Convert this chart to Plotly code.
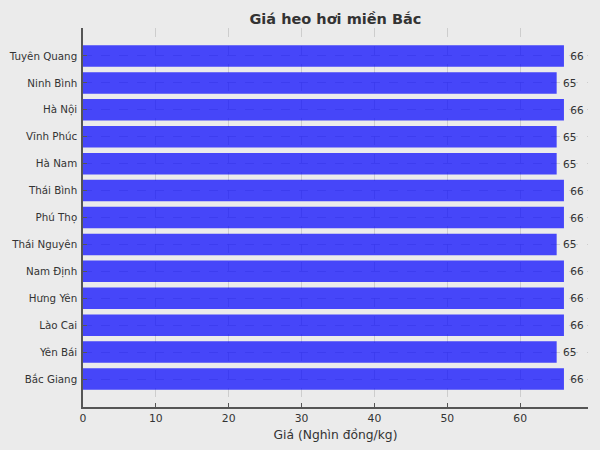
import plotly.graph_objects as go

# data, listed bottom to top as in the chart
provinces = ["Bắc Giang", "Yên Bái", "Lào Cai", "Hưng Yên", "Nam Định", "Thái Nguyên",
             "Phú Thọ", "Thái Bình", "Hà Nam", "Vĩnh Phúc", "Hà Nội", "Ninh Bình", "Tuyên Quang"]
prices = [66, 65, 66, 66, 66, 65, 66, 66, 65, 65, 66, 65, 66]
x_ticks = [0, 10, 20, 30, 40, 50, 60]

font = "DejaVu Sans"
grid = "rgba(185,185,185,0.6)"

fig = go.Figure()
fig.add_trace(go.Bar(
    y=provinces, x=prices, orientation="h", width=0.8,
    marker=dict(color="rgba(0,0,255,0.7)", line=dict(width=0)),
    text=[" " + str(p) for p in prices], textposition="outside", cliponaxis=False,
    textfont=dict(family=font, size=10.5, color="#333333"),
    hoverinfo="skip",
))

fig.update_layout(
    width=600, height=450,
    margin=dict(l=83, r=12, t=28, b=43),
    paper_bgcolor="#ebebeb", plot_bgcolor="#ebebeb",
    showlegend=False,
    title=dict(text="<b>Giá heo hơi miền Bắc</b>", x=0.559, xanchor="center",
               y=0.958, yanchor="middle", font=dict(family=font, size=14.5, color="#333333")),
    font=dict(family=font, color="#333333"),
)
fig.update_xaxes(
    range=[0, 69.3], tickvals=x_ticks, ticks="inside", ticklen=4, tickcolor="#555555",
    tickfont=dict(size=10.8), showline=True, linecolor="#555555", linewidth=1.5,
    showgrid=True, gridcolor=grid, griddash="dash", gridwidth=1, zeroline=False,
    title=dict(text="Giá (Nghìn đồng/kg)", font=dict(size=12.3), standoff=7),
    layer="above traces", automargin=False,
)
fig.update_yaxes(
    range=[-1.04, 13.04], ticks="inside", ticklen=4, tickcolor="#555555",
    tickfont=dict(size=10.3), ticklabelstandoff=2, showline=True, linecolor="#555555", linewidth=1.5,
    showgrid=True, gridcolor=grid, griddash="dash", gridwidth=1, zeroline=False,
    layer="above traces", automargin=False,
)

# drop the page's default body margin so the figure sits at the window corner
fig.write_html("out.html", config={"displayModeBar": False},
               post_script="document.body.style.margin='0';")
